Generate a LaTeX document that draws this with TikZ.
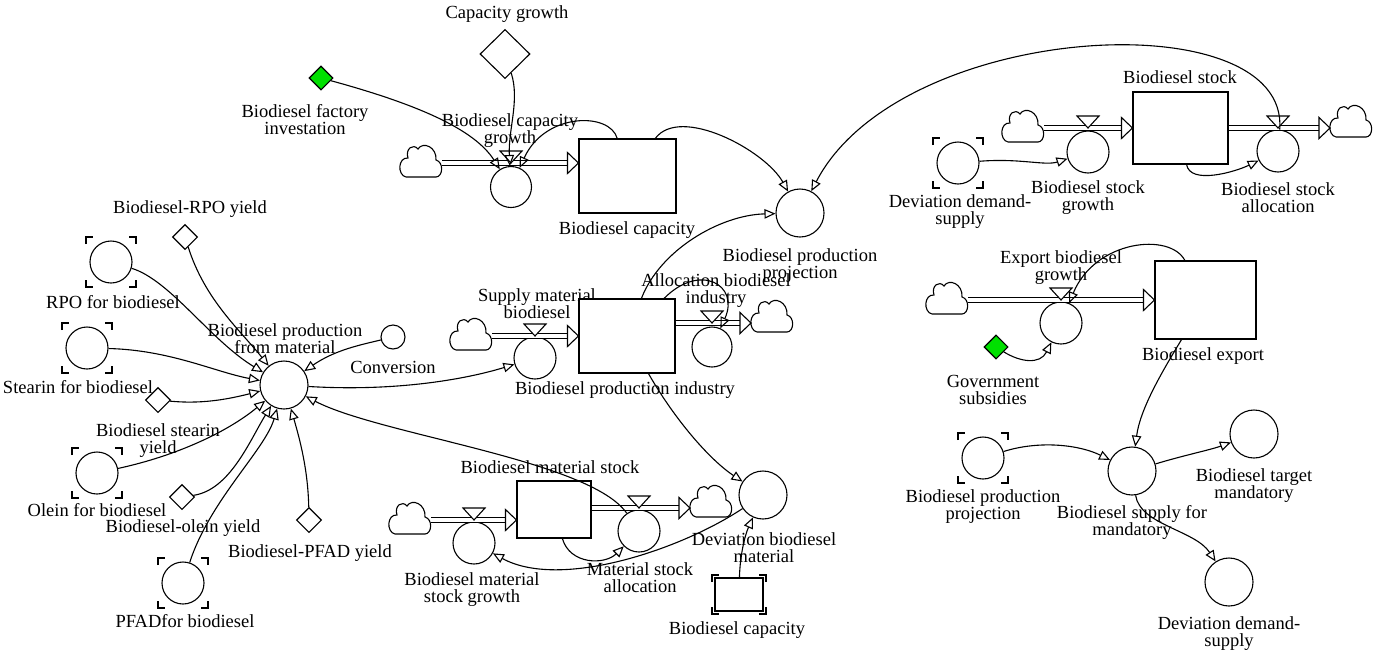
\documentclass[tikz,border=0pt]{standalone}
\usepackage{fontspec}
\setmainfont{Liberation Serif}
\usetikzlibrary{arrows.meta,shapes.geometric,calc}
\definecolor{constgreen}{RGB}{0,224,0}

\tikzset{
  lbl/.style={font=\fontsize{18.5}{17}\selectfont, align=center, inner sep=0pt},
  aux/.style={circle, draw, fill=white, minimum size=42pt, inner sep=0pt},
  auxl/.style={aux, minimum size=48pt},
  auxs/.style={aux, minimum size=24pt},
  konst/.style={diamond, draw, fill=white, minimum width=25pt, minimum height=25pt, inner sep=0pt},
  bigkonst/.style={konst, minimum width=50pt, minimum height=49pt},
  gkonst/.style={konst, fill=constgreen, minimum width=24pt, minimum height=24pt},
  stockbox/.style={rectangle, draw, fill=white, inner sep=0pt},
  link/.style={-{Triangle[open,length=11pt,width=9.5pt]}},
  pipe/.style={draw, double=white, double distance=3.4pt, line width=1pt},
  pics/vcloud/.style={code={
    \begin{scope}[x=1pt,y=1pt]
      \coordinate (-w) at (-21,0);
      \coordinate (-e) at (21,0);
      \filldraw[fill=white,yshift=#1] (-15,0) -- (15,0)
        .. controls (22,0) and (23,15) .. (15,17)
        .. controls (16,30) and (2,36) .. (-3,28)
        .. controls (-8,34) and (-16,28) .. (-13,19)
        .. controls (-23,20) and (-24,2) .. (-15,0) -- cycle;
    \end{scope}}},
}

% open flow arrow head with its tip at #1
\newcommand\flowhead[1]{\filldraw[fill=white] (#1) -- ++(-11,-10.5) -- ++(0,21) -- cycle;}
% valve triangle sitting on the pipe at #1
\newcommand\valvemark[1]{\filldraw[fill=white] (#1) -- ++(-11,-12) -- ++(22,0) -- cycle;}
% corner marks of a shadow variable: centre, half width, half height
\newcommand\cornerset[3]{%
  \draw ($(#1)+(-#2,-#3+7)$) -- ++(0,-7) -- ++(7,0);
  \draw ($(#1)+(#2-7,-#3)$) -- ++(7,0) -- ++(0,7);
  \draw ($(#1)+(-#2,#3-7)$) -- ++(0,7) -- ++(7,0);
  \draw ($(#1)+(#2-7,#3)$) -- ++(7,0) -- ++(0,-7);}

\begin{document}
\begin{tikzpicture}[x=1pt,y=-1pt,line width=1.1pt]
\useasboundingbox (0,0) rectangle (1383,654);

% ---------- capacity sector ----------
\node[bigkonst] (cgd) at (505,54) {};
\node[lbl] (lcgd) at (507,14) {Capacity growth};
\node[gkonst] (gdA) at (321,78) {};
\node[lbl] (lgdA) at (305,120) {Biodiesel factory\\investation};
\node[aux, minimum size=41pt] (cgr) at (511,187) {};
\node[lbl] (lcgr) at (510,131) {Biodiesel capacity\\growth};
\node[stockbox, minimum width=97pt, minimum height=74pt] (bcap) at (627.5,176) {};
\node[lbl] (lbcap) at (627,230) {Biodiesel capacity};
\node[auxl] (proj) at (800,213) {};
\node[lbl] (lproj) at (800,266) {Biodiesel production\\projection};

% ---------- raw material inputs ----------
\node[konst] (d1) at (185,237) {};
\node[lbl] (ld1) at (190,209) {Biodiesel-RPO yield};
\node[aux] (rpo) at (111,262) {};
\cornerset{rpo}{25}{25}
\node[lbl] (lrpo) at (113,302) {RPO for biodiesel};
\node[aux] (ste) at (87,348) {};
\cornerset{ste}{25}{25}
\node[lbl] (lste) at (78,387) {Stearin for biodiesel};
\node[konst] (d2) at (158,400) {};
\node[lbl] (ld2) at (158,441) {Biodiesel stearin\\yield};
\node[aux] (ole) at (97,473) {};
\cornerset{ole}{25}{25}
\node[lbl] (lole) at (97,510) {Olein for biodiesel};
\node[konst] (d3) at (182,497) {};
\node[lbl] (ld3) at (183,528) {Biodiesel-olein yield};
\node[konst] (d4) at (309,520) {};
\node[lbl] (ld4) at (310,553) {Biodiesel-PFAD yield};
\node[aux] (pfad) at (183,583) {};
\cornerset{pfad}{25}{25}
\node[lbl] (lpfad) at (185,621) {PFADfor biodiesel};
\node[auxl] (bpm) at (284,385) {};
\node[lbl] (lbpm) at (285,339) {Biodiesel production\\from material};
\node[auxs] (conv) at (393,337) {};
\node[lbl] (lconv) at (393,367) {Conversion};

% ---------- production industry ----------
\node[aux] (smb) at (535,358) {};
\node[lbl] (lsmb) at (537,304) {Supply material\\biodiesel};
\node[stockbox, minimum width=96pt, minimum height=74pt] (bpi) at (627,336) {};
\node[lbl] (lbpi) at (625,390) {Biodiesel production industry};
\node[aux, minimum size=40pt] (abi) at (712,347) {};
\node[lbl] (labi) at (716,291) {Allocation biodiesel\\industry};

% ---------- material stock ----------
\node[stockbox, minimum width=74pt, minimum height=57pt] (bms) at (554,509.5) {};
\node[lbl] (lbms) at (550,467) {Biodiesel material stock};
\node[aux] (msg) at (474,543) {};
\node[lbl] (lmsg) at (472,590) {Biodiesel material\\stock growth};
\node[aux] (msa) at (639,531) {};
\node[lbl] (lmsa) at (640,578) {Material stock\\allocation};
\node[auxl] (dbm) at (763,495) {};
\node[lbl] (ldbm) at (764,548) {Deviation biodiesel\\material};
\node[stockbox, minimum width=48pt, minimum height=33pt] (bcs) at (739,594.5) {};
\cornerset{bcs}{27}{19.5}
\node[lbl] (lbcs) at (737,630) {Biodiesel capacity};

% ---------- biodiesel stock ----------
\node[stockbox, minimum width=95pt, minimum height=72pt] (bst) at (1180.5,128) {};
\node[lbl] (lbst) at (1180,77) {Biodiesel stock};
\node[aux] (bsg) at (1088,152) {};
\node[lbl] (lbsg) at (1088,198) {Biodiesel stock\\growth};
\node[aux] (bsa) at (1278,151) {};
\node[lbl] (lbsa) at (1278,198) {Biodiesel stock\\allocation};
\node[aux] (dds1) at (958,163) {};
\cornerset{dds1}{25}{25}
\node[lbl] (ldds1) at (960,212) {Deviation demand-\\supply};

% ---------- export ----------
\node[stockbox, minimum width=101pt, minimum height=78pt] (bex) at (1205.5,300) {};
\node[lbl] (lbex) at (1203,356) {Biodiesel export};
\node[aux] (egr) at (1061,323) {};
\node[lbl] (legr) at (1061,268) {Export biodiesel\\growth};
\node[gkonst] (gs) at (996,347) {};
\node[lbl] (lgs) at (993,390) {Government\\subsidies};

% ---------- mandatory ----------
\node[aux] (bpp) at (983,458) {};
\cornerset{bpp}{25}{25}
\node[lbl] (lbpp) at (983,507) {Biodiesel production\\projection};
\node[auxl] (sfm) at (1132,471) {};
\node[lbl] (lsfm) at (1132,522) {Biodiesel supply for\\mandatory};
\node[auxl] (btm) at (1254,434) {};
\node[lbl] (lbtm) at (1254,486) {Biodiesel target\\mandatory};
\node[auxl] (dds2) at (1229,582) {};
\node[lbl] (ldds2) at (1229,634) {Deviation demand-\\supply};

% ---------- flows ----------
\pic (c1) at (421,163) {vcloud=-14};
\coordinate (h1) at (bcap.west |- c1-e);
\draw[pipe] (c1-e) -- ([xshift=-11pt]h1);
\flowhead{h1}
\valvemark{cgr |- c1-e}

\pic (c2) at (471,336) {vcloud=-14};
\coordinate (h2) at (bpi.west |- c2-e);
\draw[pipe] (c2-e) -- ([xshift=-11pt]h2);
\flowhead{h2}
\valvemark{smb |- c2-e}

\pic (c3) at (772,323) {vcloud=-9};
\coordinate (s3) at (bpi.east |- c3-w);
\draw[pipe] (s3) -- ([xshift=-11pt]c3-w);
\flowhead{c3-w}
\valvemark{abi |- c3-w}

\pic (c4) at (410,520) {vcloud=-14};
\coordinate (h4) at (bms.west |- c4-e);
\draw[pipe] (c4-e) -- ([xshift=-11pt]h4);
\flowhead{h4}
\valvemark{msg |- c4-e}

\pic (c5) at (711,508) {vcloud=-9};
\coordinate (s5) at (bms.east |- c5-w);
\draw[pipe] (s5) -- ([xshift=-11pt]c5-w);
\flowhead{c5-w}
\valvemark{msa |- c5-w}

\pic (c6) at (1023,128) {vcloud=-14};
\coordinate (h6) at (bst.west |- c6-e);
\draw[pipe] (c6-e) -- ([xshift=-11pt]h6);
\flowhead{h6}
\valvemark{bsg |- c6-e}

\pic (c7) at (1351,128) {vcloud=-9};
\coordinate (s7) at (bst.east |- c7-w);
\draw[pipe] (s7) -- ([xshift=-11pt]c7-w);
\flowhead{c7-w}
\valvemark{bsa |- c7-w}

\pic (c8) at (947,300) {vcloud=-14};
\coordinate (h8) at (bex.west |- c8-e);
\draw[pipe] (c8-e) -- ([xshift=-11pt]h8);
\flowhead{h8}
\valvemark{egr |- c8-e}

% ---------- links ----------
\draw[link] (gdA) .. controls (420,105) and (475,130) .. (cgr);
\draw[link] (cgd) .. controls (520,100) and (508,130) .. (cgr);
\draw[link] (bcap) .. controls (610,112) and (545,112) .. (cgr);
\draw[link] (bcap) .. controls (680,105) and (765,150) .. (proj);
\draw[link] (bsa) .. controls (1290,0) and (900,20) .. (proj);
\draw[link] (bpi) .. controls (660,250) and (720,215) .. (proj);
\draw[link] (bpi) .. controls (700,262) and (740,285) .. (abi);

\draw[link] (conv) .. controls (360,345) and (335,350) .. (bpm);
\draw[link] (bpm) .. controls (400,392) and (470,378) .. (smb);
\draw[link] (d1) .. controls (205,300) and (240,330) .. (bpm);
\draw[link] (rpo) .. controls (170,280) and (210,340) .. (bpm);
\draw[link] (ste) .. controls (170,350) and (215,372) .. (bpm);
\draw[link] (d2) .. controls (200,404) and (225,400) .. (bpm);
\draw[link] (ole) .. controls (180,455) and (230,430) .. (bpm);
\draw[link] (d3) .. controls (230,490) and (250,440) .. (bpm);
\draw[link] (pfad) .. controls (210,500) and (265,450) .. (bpm);
\draw[link] (d4) .. controls (308,470) and (300,440) .. (bpm);
\draw[link] (msa) .. controls (590,460) and (380,435) .. (bpm);

\draw[link] (bpi) .. controls (675,420) and (710,460) .. (dbm);
\draw[link] (bcs) .. controls (740,555) and (745,535) .. (dbm);
\draw[link] (dbm) .. controls (680,550) and (560,590) .. (msg);
\draw[link] (bms) .. controls (570,565) and (605,565) .. (msa);

\draw[link] (dds1) .. controls (1020,158) and (1045,166) .. (bsg);
\draw[link] (bst) .. controls (1190,185) and (1235,172) .. (bsa);
\draw[link] (bex) .. controls (1170,232) and (1095,240) .. (egr);
\draw[link] (gs) .. controls (1020,362) and (1040,365) .. (egr);
\draw[link] (bex) .. controls (1160,375) and (1140,410) .. (sfm);
\draw[link] (bpp) .. controls (1040,440) and (1080,445) .. (sfm);
\draw[link] (sfm) .. controls (1185,455) and (1210,450) .. (btm);
\draw[link] (sfm) .. controls (1140,525) and (1195,530) .. (dds2);
\end{tikzpicture}
\end{document}
